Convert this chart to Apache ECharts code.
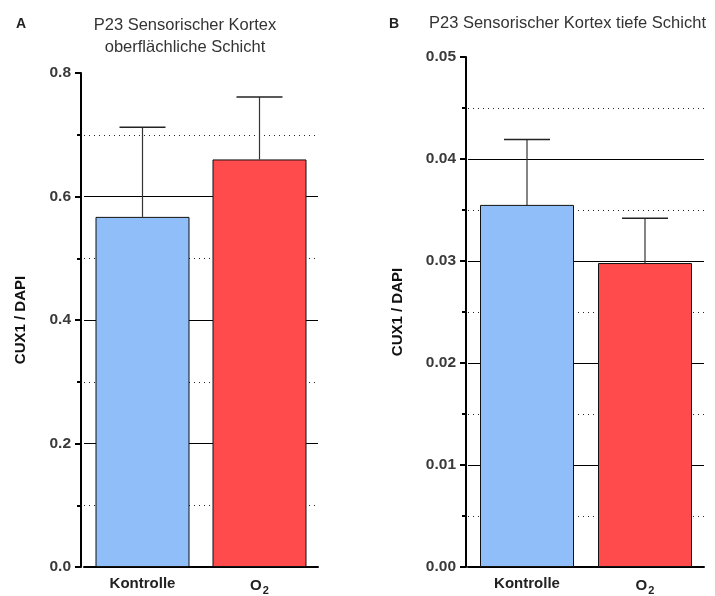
<!DOCTYPE html>
<html>
<head>
<meta charset="utf-8">
<script src="https://cdn.jsdelivr.net/npm/echarts@6/dist/echarts.min.js"></script>
<style>
  html, body { margin: 0; padding: 0; background: #fff; }
  #chart { width: 715px; height: 596px; }
</style>
</head>
<body>
<div id="chart"></div>
<script>
// Kategorien (beide Panels gleich)
var categories = ['Kontrolle', 'O2'];
// Panel A: oberflächliche Schicht
var meanA = [0.567, 0.660];
var errA = [0.712, 0.761];   // oberes Ende des Fehlerbalkens
// Panel B: tiefe Schicht
var meanB = [0.0355, 0.0298];
var errB = [0.0419, 0.0342];
var barColors = ['#90BEF8', '#FF4B4B'];

var chart = echarts.init(document.getElementById('chart'));

// Fehlerbalken nur nach oben, mit Querstrich
function errorItem(params, api) {
  var x = api.value(0);
  var lo = api.coord([x, api.value(1)]);
  var hi = api.coord([x, api.value(2)]);
  var half = 23;
  return {
    type: 'group',
    children: [
      { type: 'line', shape: { x1: lo[0], y1: lo[1], x2: hi[0], y2: hi[1] },
        style: { stroke: '#333', lineWidth: 1.2 } },
      { type: 'line', shape: { x1: hi[0] - half, y1: hi[1], x2: hi[0] + half, y2: hi[1] },
        style: { stroke: '#222', lineWidth: 1.5 } }
    ]
  };
}

function barData(vals) {
  return vals.map(function (v, i) {
    return { value: v, itemStyle: { color: barColors[i] } };
  });
}
function errData(means, tops) {
  return means.map(function (m, i) { return [i, m, tops[i]]; });
}

var xLabel = {
  interval: 0,
  margin: 9,
  formatter: function (v) { return v === 'O2' ? '{b|O}{s|2}' : '{b|' + v + '}'; },
  rich: {
    b: { fontFamily: 'Liberation Sans', fontSize: 15, fontWeight: 'bold', color: '#222' },
    s: { fontFamily: 'Liberation Sans', fontSize: 11, fontWeight: 'bold', color: '#222', padding: [9, 0, 0, 1] }
  }
};

function xAxisFor(gi) {
  return {
    type: 'category', gridIndex: gi, data: categories,
    axisLine: { lineStyle: { color: '#000', width: 2 } },
    axisTick: { alignWithLabel: true, length: 5, lineStyle: { color: '#000', width: 2 } },
    axisLabel: xLabel
  };
}
function yAxisFor(gi, max, interval, decimals, offset) {
  return {
    type: 'value', gridIndex: gi, min: 0, max: max, interval: interval, offset: offset,
    name: 'CUX1 / DAPI', nameLocation: 'middle', nameGap: decimals === 1 ? 53 : 61,
    nameTextStyle: { fontFamily: 'Liberation Sans', fontSize: 15, fontWeight: 'bold', color: '#111' },
    axisLine: { show: true, lineStyle: { color: '#000', width: 2 } },
    axisTick: { show: true, length: 6, lineStyle: { color: '#000', width: 2 } },
    minorTick: { show: true, splitNumber: 2, length: 4, lineStyle: { color: '#000', width: 2 } },
    axisLabel: {
      fontFamily: 'Liberation Sans', fontSize: 15.5, fontWeight: 'bold', color: '#3a3a3a', margin: 10,
      formatter: function (v) { return v.toFixed(decimals); }
    },
    // letzte Linie (am Maximum) ausblenden
    splitLine: { show: true, lineStyle: { color: ['#000', '#000', '#000', '#000', '#000', 'rgba(0,0,0,0)'].slice(-(Math.round(max / interval) + 1)), width: 1 } },
    minorSplitLine: { show: true, lineStyle: { color: '#222', width: 1, type: [1, 4] } }
  };
}

chart.setOption({
  animation: false,
  title: [
    { text: 'A', left: 11, top: 12, textStyle: { fontFamily: 'Liberation Sans', fontSize: 14, fontWeight: 'bold', color: '#222' } },
    { text: 'P23 Sensorischer Kortex\noberflächliche Schicht', left: 180, top: 9, textAlign: 'center',
      textStyle: { fontFamily: 'Liberation Sans', fontSize: 16.5, fontWeight: 'normal', color: '#333', lineHeight: 22 } },
    { text: 'B', left: 384, top: 12, textStyle: { fontFamily: 'Liberation Sans', fontSize: 14, fontWeight: 'bold', color: '#222' } },
    { text: 'P23 Sensorischer Kortex tiefe Schicht', left: 424, top: 10,
      textStyle: { fontFamily: 'Liberation Sans', fontSize: 16.5, fontWeight: 'normal', color: '#333' } }
  ],
  grid: [
    { left: 84, top: 73, width: 234, bottom: 24 },
    { left: 468, top: 57, width: 236, bottom: 24 }
  ],
  xAxis: [xAxisFor(0), xAxisFor(1)],
  yAxis: [yAxisFor(0, 0.8, 0.2, 1, 3), yAxisFor(1, 0.05, 0.01, 2, 2)],
  series: [
    { type: 'bar', xAxisIndex: 0, yAxisIndex: 0, barWidth: 94, data: barData(meanA),
      itemStyle: { borderColor: '#111', borderWidth: 1 }, z: 3 },
    { type: 'custom', xAxisIndex: 0, yAxisIndex: 0, renderItem: errorItem, data: errData(meanA, errA), z: 2 },
    { type: 'bar', xAxisIndex: 1, yAxisIndex: 1, barWidth: 94, data: barData(meanB),
      itemStyle: { borderColor: '#111', borderWidth: 1 }, z: 3 },
    { type: 'custom', xAxisIndex: 1, yAxisIndex: 1, renderItem: errorItem, data: errData(meanB, errB), z: 2 }
  ]
});
</script>
</body>
</html>
